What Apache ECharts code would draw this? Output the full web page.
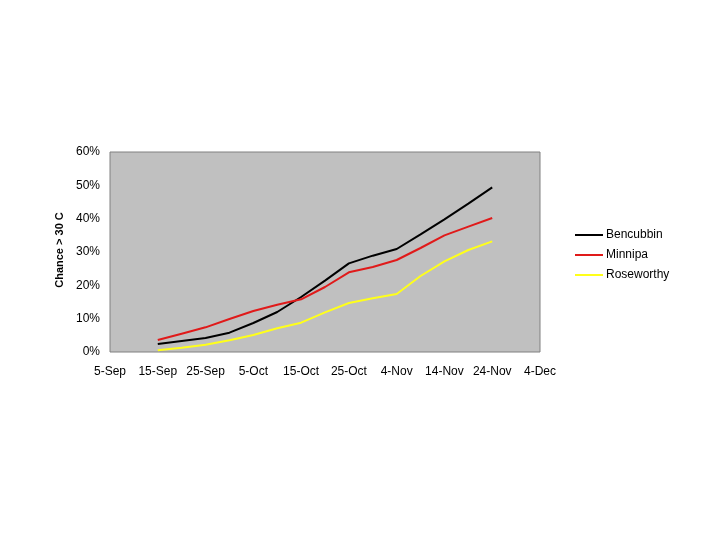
<!DOCTYPE html>
<html>
<head>
<meta charset="utf-8">
<script src="https://cdn.jsdelivr.net/npm/echarts@6/dist/echarts.min.js"></script>
<style>
html,body{margin:0;padding:0;background:#fff;}
#c{width:720px;height:540px;}
</style>
</head>
<body>
<div id="c"></div>
<script>
// Tick labels of the x axis (every 10 days from 5-Sep)
var tickLabels = ['5-Sep','15-Sep','25-Sep','5-Oct','15-Oct','25-Oct','4-Nov','14-Nov','24-Nov','4-Dec'];
// Observation dates (days after 5-Sep)
var days = [10,15,20,25,30,35,40,45,50,55,60,65,70,75,80];
// Series values (%)
var bencubbin  = [2.4,3.3,4.2,5.8,8.7,12.0,16.5,21.4,26.6,28.9,30.9,35.3,39.8,44.5,49.4];
var minnipa    = [3.6,5.5,7.4,9.9,12.3,14.2,15.8,19.5,23.9,25.5,27.6,31.2,35.0,37.6,40.2];
var roseworthy = [0.5,1.3,2.2,3.5,5.1,7.1,8.8,11.9,14.7,16.1,17.4,22.8,27.2,30.6,33.2];

function pairs(vals){ return days.map(function(d,i){ return [d, vals[i]]; }); }

var font = 'Liberation Sans, Arial, sans-serif';
var chart = echarts.init(document.getElementById('c'), null, {renderer:'canvas'});
chart.setOption({
  animation:false,
  backgroundColor:'#ffffff',
  textStyle:{fontFamily:font},
  grid:{left:110, top:152, width:430, height:200, show:true,
        backgroundColor:'#c0c0c0', borderColor:'#808080', borderWidth:1},
  xAxis:{type:'value', min:0, max:90, interval:10,
    axisLine:{show:false}, axisTick:{show:false}, splitLine:{show:false},
    axisLabel:{color:'#000', fontSize:12, fontFamily:font, margin:14,
      formatter:function(v){ return tickLabels[Math.round(v/10)]; }}},
  yAxis:{type:'value', min:0, max:60, interval:10,
    name:'Chance > 30 C', nameLocation:'middle', nameGap:38,
    nameTextStyle:{color:'#000', fontSize:11, fontWeight:'bold', fontFamily:font, padding:[0,0,0,4]},
    axisLine:{show:false}, axisTick:{show:false}, splitLine:{show:false},
    axisLabel:{color:'#000', fontSize:12, fontFamily:font, margin:10,
      formatter:function(v){ return v + '%'; }}},
  legend:{orient:'vertical', left:570, top:224, itemWidth:28, itemHeight:2, itemGap:8,
    icon:'rect', textStyle:{color:'#000', fontSize:12, fontFamily:font, padding:[0,0,0,-2]},
    data:['Bencubbin','Minnipa','Roseworthy']},
  series:[
    {name:'Bencubbin', type:'line', data:pairs(bencubbin), showSymbol:false,
      lineStyle:{color:'#000000', width:2}, itemStyle:{color:'#000000'}},
    {name:'Minnipa', type:'line', data:pairs(minnipa), showSymbol:false,
      lineStyle:{color:'#e01a1a', width:2}, itemStyle:{color:'#e01a1a'}},
    {name:'Roseworthy', type:'line', data:pairs(roseworthy), showSymbol:false,
      lineStyle:{color:'#ffff1a', width:2}, itemStyle:{color:'#ffff1a'}}
  ]
});
</script>
</body>
</html>
